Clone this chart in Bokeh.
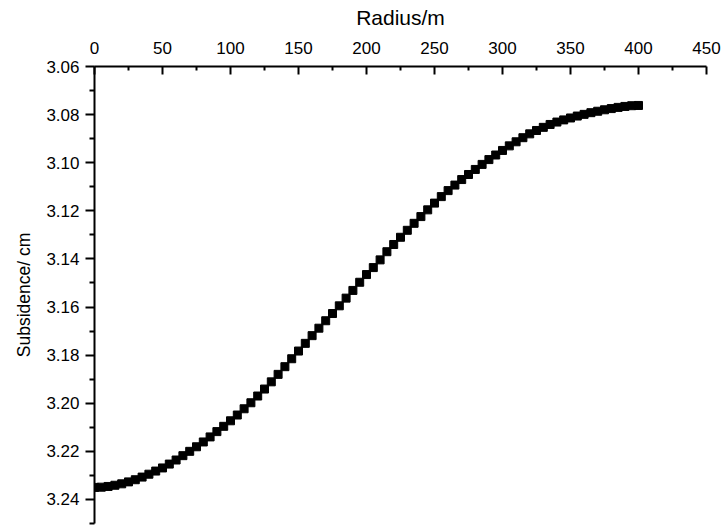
from bokeh.plotting import figure
from bokeh.models import Range1d, FixedTicker, NumeralTickFormatter
from bokeh.embed import file_html
from bokeh.resources import INLINE

radius = [i * 5 for i in range(81)]
subsidence = [
    3.2350, 3.2349, 3.2346, 3.2341, 3.2335, 3.2327, 3.2318, 3.2307, 3.2295, 3.2282,
    3.2269, 3.2253, 3.2236, 3.2218, 3.2200, 3.2181, 3.2161, 3.2140, 3.2118, 3.2096,
    3.2073, 3.2049, 3.2023, 3.1998, 3.1970, 3.1941, 3.1911, 3.1880, 3.1848, 3.1815,
    3.1783, 3.1751, 3.1719, 3.1688, 3.1657, 3.1627, 3.1595, 3.1563, 3.1531, 3.1497,
    3.1465, 3.1436, 3.1404, 3.1370, 3.1340, 3.1310, 3.1281, 3.1252, 3.1224, 3.1196,
    3.1168, 3.1141, 3.1116, 3.1093, 3.1070, 3.1049, 3.1028, 3.1007, 3.0987, 3.0968,
    3.0949, 3.0930, 3.0913, 3.0896, 3.0880, 3.0866, 3.0853, 3.0841, 3.0831, 3.0822,
    3.0814, 3.0806, 3.0799, 3.0792, 3.0786, 3.0780, 3.0775, 3.0770, 3.0766, 3.0763,
    3.0762,
]

x_ticks = [0, 50, 100, 150, 200, 250, 300, 350, 400, 450]
x_minor = [25, 75, 125, 175, 225, 275, 325, 375, 425]
y_ticks = [3.06, 3.08, 3.10, 3.12, 3.14, 3.16, 3.18, 3.20, 3.22, 3.24]
y_minor = [3.07, 3.09, 3.11, 3.13, 3.15, 3.17, 3.19, 3.21, 3.23, 3.25]

FONT = "Liberation Sans"

p = figure(width=722, height=527, output_backend="svg", toolbar_location=None,
           x_axis_location="above",
           x_range=Range1d(0, 450), y_range=Range1d(3.25, 3.06),
           min_border_left=94, min_border_right=16, min_border_top=66,
           min_border_bottom=4)
p.outline_line_color = None
p.xgrid.visible = False
p.ygrid.visible = False
p.background_fill_color = "white"

p.scatter(radius, subsidence, marker="square", size=8, color="black")

xa = p.xaxis[0]
xa.ticker = FixedTicker(ticks=x_ticks, minor_ticks=x_minor)
xa.axis_label = "Radius/m"
xa.major_tick_in = 8
xa.major_tick_out = 0
xa.minor_tick_in = 4
xa.minor_tick_out = 0

ya = p.yaxis[0]
ya.ticker = FixedTicker(ticks=y_ticks, minor_ticks=y_minor)
ya.formatter = NumeralTickFormatter(format="0.00")
ya.axis_label = "Subsidence/ cm"
ya.major_tick_in = 0
ya.major_tick_out = 9
ya.minor_tick_in = 0
ya.minor_tick_out = 5

for ax in (xa, ya):
    ax.axis_line_width = 2
    ax.major_tick_line_width = 2
    ax.minor_tick_line_width = 2
    ax.axis_line_color = "black"
    ax.major_tick_line_color = "black"
    ax.minor_tick_line_color = "black"
    ax.major_label_text_font = FONT
    ax.major_label_text_font_size = "17px"
    ax.major_label_text_color = "black"
    ax.axis_label_text_font = FONT
    ax.axis_label_text_font_style = "normal"
    ax.axis_label_text_color = "black"

xa.axis_label_text_font_size = "21px"
ya.axis_label_text_font_size = "17.5px"
xa.major_label_standoff = 13
xa.axis_label_standoff = 10
ya.major_label_standoff = 6
ya.axis_label_standoff = 9

open("out.html", "w").write(file_html(p, INLINE))
